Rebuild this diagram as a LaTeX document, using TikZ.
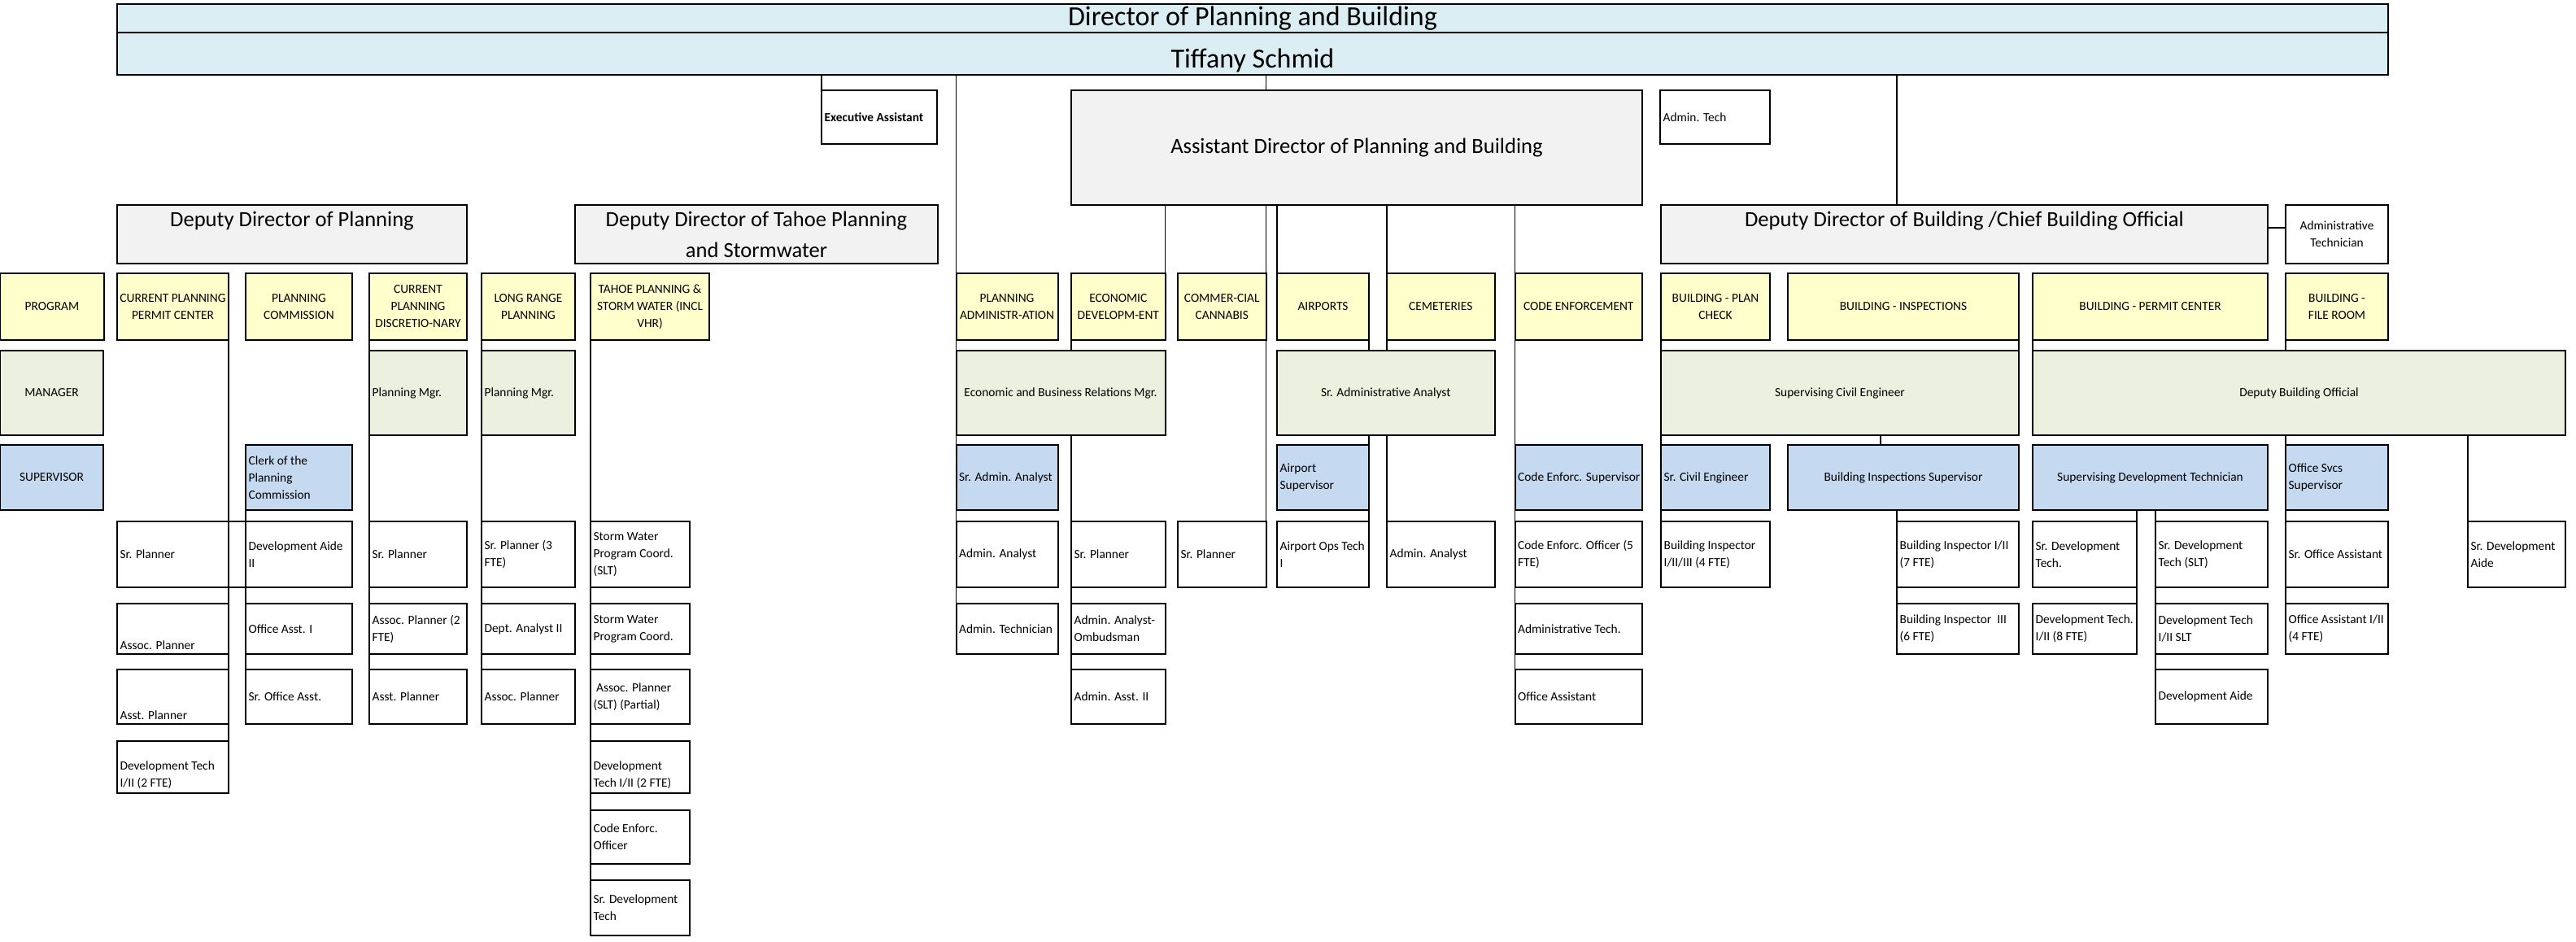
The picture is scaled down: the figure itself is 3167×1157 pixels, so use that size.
\documentclass[tikz,border=0pt]{standalone}
\usepackage{fontspec}
\setmainfont{Carlito}
\usetikzlibrary{calc}
\definecolor{bannerblue}{HTML}{DAEEF3}
\definecolor{boxgray}{HTML}{F2F2F2}
\definecolor{boxyellow}{HTML}{FFFFCC}
\definecolor{boxgreen}{HTML}{EBF1DE}
\definecolor{boxblue}{HTML}{C5D9F1}
\pgfdeclarelayer{bg}
\pgfsetlayers{bg,main}
\tikzset{
  box/.style={draw=black, line width=1pt, inner sep=0pt, outer sep=0pt},
  fw/.style={fill=white},
  fb/.style={fill=bannerblue},
  fg/.style={fill=boxgray},
  fy/.style={fill=boxyellow},
  fm/.style={fill=boxgreen},
  fs/.style={fill=boxblue},
  txt/.style={inner sep=0pt, font=\fontsize{7.7pt}{10.5pt}\selectfont, text=black},
  medtxt/.style={inner sep=0pt, font=\fontsize{13.3pt}{19pt}\selectfont, text=black},
  bigtxt/.style={inner sep=0pt, font=\fontsize{17pt}{20pt}\selectfont, text=black},
  conn/.style={draw=black, line width=0.8pt},
}
\newcommand\orgbox[8]{%
  \pgfmathsetmacro\obw{(#4-#2)*0.5}%
  \pgfmathsetmacro\obh{(#5-#3)*0.5}%
  \pgfmathsetmacro\obx{(#2+#4)/2}%
  \pgfmathsetmacro\oby{(#3+#5)/2}%
  \node[box,#6,minimum width=\obw pt,minimum height=\obh pt] (#1) at (\obx,\oby) {};%
  \csname oplace#7\endcsname{#1}{#8}}
\newcommand\oplaceL[2]{\node[txt,anchor=west,align=left] (#1-t) at ([xshift=1.6pt]#1.west) {#2};}
\newcommand\oplaceC[2]{\node[txt,align=center] (#1-t) at (#1.center) {#2};}
\newcommand\oplaceB[2]{\node[txt,anchor=south west,align=left] (#1-t) at ([shift={(1.6pt,2.5pt)}]#1.south west) {#2};}
\newcommand\oplaceH[2]{\node[bigtxt,align=center] (#1-t) at (#1.center) {#2};}
\newcommand\oplaceG[2]{\node[bigtxt,align=center] (#1-t) at ([yshift=-4pt]#1.center) {#2};}
\newcommand\oplaceM[2]{\node[medtxt,align=center] (#1-t) at (#1.center) {#2};}
\newcommand\oplaceT[2]{\node[medtxt,align=center,anchor=north] (#1-t) at ([yshift=-3.7pt]#1.north) {#2};}
\begin{document}
\begin{tikzpicture}[x=0.5pt,y=-0.5pt]
\useasboundingbox (0,0) rectangle (3167,1157);
% top
\orgbox{dirt}{144}{5}{2936}{40}{fb}{H}{Director of Planning and Building}
\orgbox{dirn}{144}{40}{2936}{92}{fb}{G}{Tiffany Schmid}
\orgbox{exec}{1010}{111}{1152}{177}{fw}{L}{\textbf{Executive Assistant}}
\orgbox{asst}{1317}{111}{2019}{252}{fg}{M}{Assistant Director of Planning and Building}
\orgbox{admt}{2041}{111}{2176}{177}{fw}{L}{Admin. Tech}
% deputies
\orgbox{depP}{144}{252}{574}{324}{fg}{T}{Deputy Director of Planning}
\orgbox{depT}{707}{252}{1153}{324}{fg}{T}{Deputy Director of Tahoe Planning\\and Stormwater}
\orgbox{depB}{2042}{252}{2788}{324}{fg}{T}{Deputy Director of Building /Chief Building Official}
\orgbox{admT}{2810}{252}{2936}{324}{fw}{C}{Administrative\\Technician}
% program row
\orgbox{yProg}{0}{336}{128}{418}{fy}{C}{PROGRAM}
\orgbox{yCPP}{144}{336}{281}{418}{fy}{C}{CURRENT PLANNING\\PERMIT CENTER}
\orgbox{yPC}{302}{336}{433}{418}{fy}{C}{PLANNING\\COMMISSION}
\orgbox{yCPD}{454}{336}{574}{418}{fy}{C}{CURRENT\\PLANNING\\DISCRETIO-NARY}
\orgbox{yLRP}{592}{336}{707}{418}{fy}{C}{LONG RANGE\\PLANNING}
\orgbox{yTah}{726}{336}{872}{418}{fy}{C}{TAHOE PLANNING \&\\STORM WATER (INCL\\VHR)}
\orgbox{yPA}{1175.5}{336}{1300.5}{418}{fy}{C}{PLANNING\\ADMINISTR-ATION}
\orgbox{yED}{1317}{336}{1432.5}{418}{fy}{C}{ECONOMIC\\DEVELOPM-ENT}
\orgbox{yCC}{1448}{336}{1556.5}{418}{fy}{C}{COMMER-CIAL\\CANNABIS}
\orgbox{yAir}{1570}{336}{1683}{418}{fy}{C}{AIRPORTS}
\orgbox{yCem}{1705}{336}{1837.5}{418}{fy}{C}{CEMETERIES}
\orgbox{yCE}{1862.5}{336}{2019}{418}{fy}{C}{CODE ENFORCEMENT}
\orgbox{yBPC}{2042}{336}{2176}{418}{fy}{C}{BUILDING - PLAN\\CHECK}
\orgbox{yBI}{2198}{336}{2482}{418}{fy}{C}{BUILDING - INSPECTIONS}
\orgbox{yBPm}{2499}{336}{2788}{418}{fy}{C}{BUILDING - PERMIT CENTER}
\orgbox{yBFR}{2810}{336}{2936}{418}{fy}{C}{BUILDING -\\FILE ROOM}
% manager row
\orgbox{mMgr}{0}{431}{127}{535}{fm}{C}{MANAGER}
\orgbox{mCPD}{454}{431}{574}{535}{fm}{L}{Planning Mgr.}
\orgbox{mLRP}{592}{431}{707}{535}{fm}{L}{Planning Mgr.}
\orgbox{mEcon}{1175.5}{431}{1432.5}{535}{fm}{C}{Economic and Business Relations Mgr.}
\orgbox{mSAA}{1570}{431}{1837.5}{535}{fm}{C}{Sr. Administrative Analyst}
\orgbox{mSCE}{2042}{431}{2482}{535}{fm}{C}{Supervising Civil Engineer}
\orgbox{mDBO}{2499}{431}{3154}{535}{fm}{C}{Deputy Building Official}
% supervisor row
\orgbox{sSup}{0}{547}{127}{627}{fs}{C}{SUPERVISOR}
\orgbox{sClerk}{302}{547}{433}{627}{fs}{L}{Clerk of the\\Planning\\Commission}
\orgbox{sSAA}{1175.5}{547}{1300.5}{627}{fs}{L}{Sr. Admin. Analyst}
\orgbox{sAir}{1570}{547}{1683}{627}{fs}{L}{Airport\\Supervisor}
\orgbox{sCE}{1862.5}{547}{2019}{627}{fs}{L}{Code Enforc. Supervisor}
\orgbox{sSCivE}{2042}{547}{2176}{627}{fs}{L}{Sr. Civil Engineer}
\orgbox{sBIS}{2198}{547}{2482}{627}{fs}{C}{Building Inspections Supervisor}
\orgbox{sSDT}{2499}{547}{2788}{627}{fs}{C}{Supervising Development Technician}
\orgbox{sOSS}{2810}{547}{2936}{627}{fs}{L}{Office Svcs\\Supervisor}
% staff row 1
\orgbox{c1a}{144}{641}{281}{722}{fw}{L}{Sr. Planner}
\orgbox{c2a}{302}{641}{433}{722}{fw}{L}{Development Aide\\II}
\orgbox{c3a}{454}{641}{574}{722}{fw}{L}{Sr. Planner}
\orgbox{c4a}{592}{641}{707}{722}{fw}{L}{Sr. Planner (3\\FTE)}
\orgbox{c5a}{726}{641}{848}{722}{fw}{L}{Storm Water\\Program Coord.\\(SLT)}
\orgbox{pa1}{1175.5}{641}{1300.5}{722}{fw}{L}{Admin. Analyst}
\orgbox{ed1}{1317}{641}{1432.5}{722}{fw}{L}{Sr. Planner}
\orgbox{cc1}{1448}{641}{1556.5}{722}{fw}{L}{Sr. Planner}
\orgbox{air1}{1570}{641}{1683}{722}{fw}{L}{Airport Ops Tech\\I}
\orgbox{cem1}{1705}{641}{1837.5}{722}{fw}{L}{Admin. Analyst}
\orgbox{ce1}{1862.5}{641}{2019}{722}{fw}{L}{Code Enforc. Officer (5\\FTE)}
\orgbox{pc1}{2042}{641}{2176}{722}{fw}{L}{Building Inspector\\I/II/III (4 FTE)}
\orgbox{bi1}{2332}{641}{2482}{722}{fw}{L}{Building Inspector I/II\\(7 FTE)}
\orgbox{sdt1}{2499}{641}{2627}{722}{fw}{L}{Sr. Development\\Tech.}
\orgbox{sdt2}{2650}{641}{2788}{722}{fw}{L}{Sr. Development\\Tech (SLT)}
\orgbox{os1}{2810}{641}{2936}{722}{fw}{L}{Sr. Office Assistant}
\orgbox{sda}{3034}{641}{3154}{722}{fw}{L}{Sr. Development\\Aide}
% staff row 2
\orgbox{c1b}{144}{742}{281}{804}{fw}{B}{Assoc. Planner}
\orgbox{c2b}{302}{742}{433}{804}{fw}{L}{Office Asst. I}
\orgbox{c3b}{454}{742}{574}{804}{fw}{L}{Assoc. Planner (2\\FTE)}
\orgbox{c4b}{592}{742}{707}{804}{fw}{L}{Dept. Analyst II}
\orgbox{c5b}{726}{742}{848}{804}{fw}{L}{Storm Water\\Program Coord.}
\orgbox{pa2}{1175.5}{742}{1300.5}{804}{fw}{L}{Admin. Technician}
\orgbox{ed2}{1317}{742}{1432.5}{804}{fw}{L}{Admin. Analyst-\\Ombudsman}
\orgbox{ce2}{1862.5}{742}{2019}{804}{fw}{L}{Administrative Tech.}
\orgbox{bi2}{2332}{742}{2482}{804}{fw}{L}{Building Inspector\ \ III\\(6 FTE)}
\orgbox{sdt1b}{2499}{742}{2627}{804}{fw}{L}{Development Tech.\\I/II (8 FTE)}
\orgbox{sdt2b}{2650}{742}{2788}{804}{fw}{L}{Development Tech\\I/II SLT}
\orgbox{os2}{2810}{742}{2936}{804}{fw}{L}{Office Assistant I/II\\(4 FTE)}
% staff row 3
\orgbox{c1c}{144}{823}{281}{890}{fw}{B}{Asst. Planner}
\orgbox{c2c}{302}{823}{433}{890}{fw}{L}{Sr. Office Asst.}
\orgbox{c3c}{454}{823}{574}{890}{fw}{L}{Asst. Planner}
\orgbox{c4c}{592}{823}{707}{890}{fw}{L}{Assoc. Planner}
\orgbox{c5c}{726}{823}{848}{890}{fw}{L}{\ Assoc. Planner\\(SLT) (Partial)}
\orgbox{ed3}{1317}{823}{1432.5}{890}{fw}{L}{Admin. Asst. II}
\orgbox{ce3}{1862.5}{823}{2019}{890}{fw}{L}{Office Assistant}
\orgbox{sdt2c}{2650}{823}{2788}{890}{fw}{L}{Development Aide}
% staff rows 4-6
\orgbox{c1d}{144}{911}{281}{975}{fw}{B}{Development Tech\\I/II (2 FTE)}
\orgbox{c5d}{726}{911}{848}{975}{fw}{B}{Development\\Tech I/II (2 FTE)}
\orgbox{c5e}{726}{996}{848}{1062}{fw}{L}{Code Enforc.\\Officer}
\orgbox{c5f}{726}{1082}{848}{1150}{fw}{L}{Sr. Development\\Tech}
\coordinate (bisx) at (2312,541);
% connectors
\begin{pgfonlayer}{bg}
\fill[white] (0,0) rectangle (3167,1157);
\draw[conn] (exec.north west |- dirn.south) -- (exec.north west);
\draw[conn] (dirn.south -| yCC.east) -- (asst.north -| yCC.east);
\draw[conn] (yPA.north west |- dirn.south) -- (yPA.north west);
\draw[conn] (yPA.south west) -- (pa2.south west);
\draw[conn] (dirn.south -| bi1.west) -- (depB.north -| bi1.west);
\draw[conn] ([yshift=4pt]depB.east) -- ([yshift=4pt]admT.west);
\draw[conn] (asst.south -| yED.east) -- (yED.north east);
\draw[conn] (asst.south -| yCC.east) -- (yCC.north east);
\draw[conn] (asst.south -| yAir.west) -- (yAir.north west);
\draw[conn] (asst.south -| yCem.west) -- (yCem.north west);
\draw[conn] (asst.south -| yCE.west) -- (yCE.north west);
\draw[conn] (yCPP.south east) -- (c1d.south east);
\draw[conn] (c1a.north east) -- (c2a.north west);
\draw[conn] (c1a.south east) -- (c2a.south west);
\draw[conn] (sClerk.south west) -- (c2c.north west);
\draw[conn] (yCPD.south west) -- (c3c.north west);
\draw[conn] (yLRP.south west) -- (c4c.north west);
\draw[conn] (yTah.south west) -- (c5f.north west);
\draw[conn] (yED.south west) -- (mEcon.north -| yED.west);
\draw[conn] (mEcon.south -| yED.west) -- (ed3.north west);
\draw[conn] (yCC.south east) -- (cc1.north east);
\draw[conn] (yAir.south east) -- (mSAA.north -| yAir.east);
\draw[conn] (mSAA.south -| yAir.east) -- (air1.north east);
\draw[conn] (yCem.south west) -- (mSAA.north -| yCem.west);
\draw[conn] (mSAA.south -| yCem.west) -- (cem1.north west);
\draw[conn] (yCE.south west) -- (ce3.north west);
\draw[conn] (yBPC.south west) -- (mSCE.north west);
\draw[conn] (mSCE.south west) -- (pc1.north west);
\draw[conn] (yBI.south east) -- (mSCE.north east);
\draw[conn] (mSCE.south -| bisx) -- (sBIS.north -| bisx);
\draw[conn] (sBIS.south -| bi1.west) -- (bi2.north west);
\draw[conn] (yBPm.south west) -- (mDBO.north west);
\draw[conn] (yBFR.south west) -- (mDBO.north -| yBFR.west);
\draw[conn] (mDBO.south -| yBFR.west) -- (os2.north west);
\draw[conn] (mDBO.south -| sda.west) -- (sda.north west);
\draw[conn] (sSDT.south -| sdt1.east) -- (sdt1b.north east);
\draw[conn] (sSDT.south -| sdt2.west) -- (sdt2c.north west);
\end{pgfonlayer}
\end{tikzpicture}
\end{document}
